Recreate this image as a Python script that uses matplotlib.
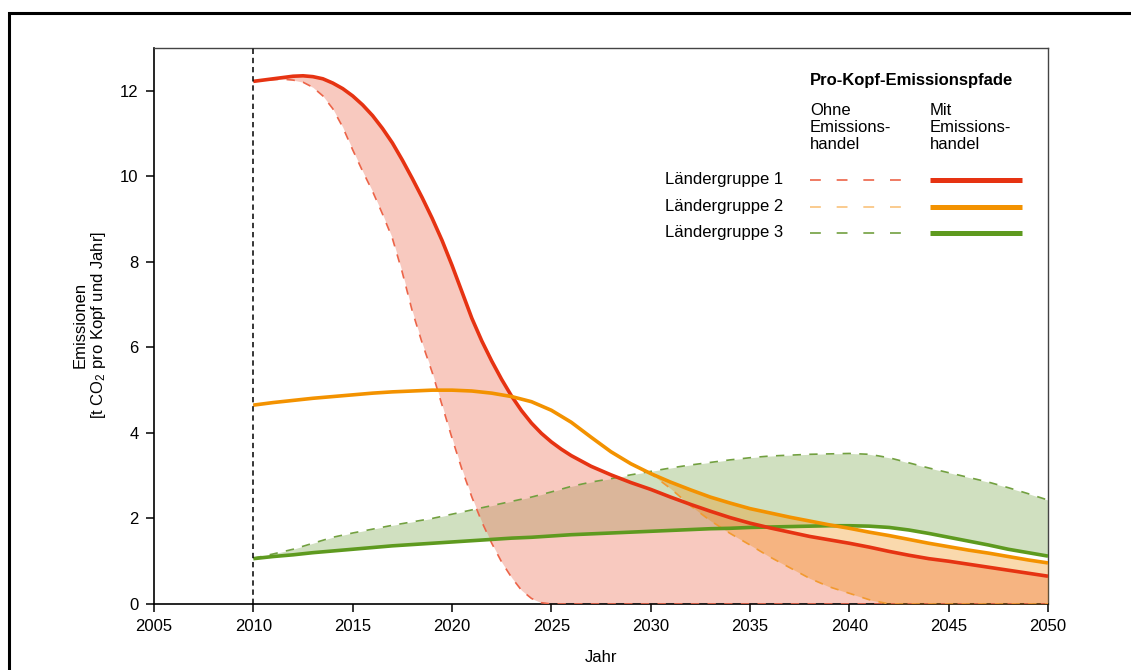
import matplotlib
matplotlib.use("Agg")
import matplotlib.pyplot as plt
from matplotlib.lines import Line2D

plt.rcParams['font.family'] = ['Liberation Sans', 'DejaVu Sans']
plt.rcParams['mathtext.fontset'] = 'custom'
plt.rcParams['mathtext.rm'] = 'Liberation Sans'
plt.rcParams['mathtext.it'] = 'Liberation Sans:italic'

# ---------------- data ----------------
# Ländergruppe 1: half-year readings 2010-2026, then yearly
years_g1 = [2010, 2010.5, 2011, 2011.5, 2012, 2012.5, 2013, 2013.5, 2014, 2014.5,
            2015, 2015.5, 2016, 2016.5, 2017, 2017.5, 2018, 2018.5, 2019, 2019.5,
            2020, 2020.5, 2021, 2021.5, 2022, 2022.5, 2023, 2023.5, 2024, 2024.5,
            2025, 2025.5, 2026, 2027, 2028, 2029, 2030, 2031, 2032, 2033,
            2034, 2035, 2036, 2037, 2038, 2039, 2040, 2041, 2042, 2043,
            2044, 2045, 2046, 2047, 2048, 2049, 2050]
g1_mit = [12.22, 12.25, 12.28, 12.31, 12.34, 12.35, 12.33, 12.28, 12.18, 12.05,
          11.88, 11.67, 11.42, 11.12, 10.78, 10.38, 9.95, 9.50, 9.02, 8.50,
          7.92, 7.30, 6.68, 6.15, 5.68, 5.25, 4.86, 4.52, 4.23, 3.99,
          3.79, 3.62, 3.47, 3.22, 3.02, 2.84, 2.68, 2.50, 2.33, 2.17,
          2.02, 1.89, 1.78, 1.68, 1.58, 1.50, 1.42, 1.33, 1.23, 1.14,
          1.06, 1.00, 0.93, 0.86, 0.79, 0.72, 0.65]
g1_ohne = [12.22, 12.24, 12.26, 12.27, 12.25, 12.20, 12.08, 11.88, 11.58, 11.15,
           10.62, 10.12, 9.65, 9.12, 8.55, 7.75, 6.85, 6.10, 5.42, 4.65,
           3.88, 3.15, 2.50, 1.92, 1.42, 0.98, 0.62, 0.32, 0.13, 0.03,
           0.0, 0.0, 0.0, 0.0, 0.0, 0.0, 0.0, 0.0, 0.0, 0.0,
           0.0, 0.0, 0.0, 0.0, 0.0, 0.0, 0.0, 0.0, 0.0, 0.0,
           0.0, 0.0, 0.0, 0.0, 0.0, 0.0, 0.0]

# Ländergruppen 2 and 3: yearly readings
years = list(range(2010, 2051))
g2_mit = [4.65, 4.71, 4.76, 4.81, 4.85, 4.89, 4.93, 4.96, 4.98, 5.00,
          5.00, 4.98, 4.93, 4.85, 4.73, 4.53, 4.25, 3.90, 3.56, 3.28,
          3.05, 2.85, 2.67, 2.50, 2.36, 2.23, 2.13, 2.03, 1.94, 1.85,
          1.77, 1.68, 1.60, 1.51, 1.42, 1.34, 1.26, 1.19, 1.11, 1.03, 0.96]
g2_ohne = [4.65, 4.71, 4.76, 4.81, 4.85, 4.89, 4.93, 4.96, 4.98, 5.00,
           5.00, 4.98, 4.93, 4.85, 4.73, 4.53, 4.25, 3.90, 3.56, 3.28,
           3.05, 2.70, 2.30, 1.95, 1.65, 1.38, 1.10, 0.85, 0.60, 0.40,
           0.25, 0.10, 0.0, 0.0, 0.0, 0.0, 0.0, 0.0, 0.0, 0.0, 0.0]
g3_mit = [1.06, 1.11, 1.15, 1.20, 1.24, 1.28, 1.32, 1.36, 1.39, 1.42,
          1.45, 1.48, 1.51, 1.54, 1.56, 1.59, 1.62, 1.64, 1.66, 1.68,
          1.70, 1.72, 1.74, 1.76, 1.77, 1.79, 1.80, 1.81, 1.82, 1.83,
          1.83, 1.82, 1.79, 1.73, 1.65, 1.56, 1.47, 1.38, 1.28, 1.20, 1.12]
g3_ohne = [1.07, 1.17, 1.28, 1.42, 1.56, 1.66, 1.75, 1.84, 1.92, 2.00,
           2.10, 2.20, 2.30, 2.40, 2.50, 2.62, 2.75, 2.85, 2.93, 3.02,
           3.10, 3.18, 3.25, 3.31, 3.37, 3.42, 3.46, 3.48, 3.50, 3.51,
           3.52, 3.50, 3.42, 3.30, 3.18, 3.07, 2.96, 2.85, 2.72, 2.58, 2.43]

group_labels = ["Ländergruppe 1", "Ländergruppe 2", "Ländergruppe 3"]
x_ticks = [2005, 2010, 2015, 2020, 2025, 2030, 2035, 2040, 2045, 2050]
y_ticks = [0, 2, 4, 6, 8, 10, 12]

# ---------------- style ----------------
solid_cols = ['#e63312', '#f39200', '#5e9a1f']
dash_cols = ['#ec6448', '#f29a30', '#72a040']
dash_leg_cols = ['#ec6448', '#f9c27c', '#72a040']
fill_cols = ['#ee7861', '#f28a00', '#6ea03c']
fill_alpha = [0.40, 0.32, 0.32]

W, H = 1131, 670
fig = plt.figure(figsize=(W / 100, H / 100), dpi=100)
ax = fig.add_axes([154 / W, 1 - 604 / H, (1048 - 154) / W, (604 - 48) / H])

xs = [years_g1, years, years]
mits = [g1_mit, g2_mit, g3_mit]
ohnes = [g1_ohne, g2_ohne, g3_ohne]

# fills (green, red, orange order)
for i, z in zip([2, 0, 1], [1, 2, 3]):
    ax.fill_between(xs[i], ohnes[i], mits[i], color=fill_cols[i],
                    alpha=fill_alpha[i], linewidth=0, zorder=z)

# dashed ("ohne Emissionshandel")
for i in [2, 0, 1]:
    ax.plot(xs[i], ohnes[i], color=dash_cols[i], lw=1.2,
            dashes=(5, 5), zorder=5)

# solid ("mit Emissionshandel")
for i in [2, 0, 1]:
    ax.plot(xs[i], mits[i], color=solid_cols[i], lw=2.6,
            solid_capstyle='butt', solid_joinstyle='round', zorder=6)

# reference line at 2010
ax.axvline(2010, color='black', lw=1.1, dashes=(3.5, 2.5), zorder=7)

ax.set_xlim(2005, 2050)
ax.set_ylim(0, 13)
ax.set_xticks(x_ticks)
ax.set_yticks(y_ticks)
ax.tick_params(axis='both', direction='out', length=6, width=1.1,
               labelsize=12, colors='black', pad=5)
for s in ['left', 'bottom']:
    ax.spines[s].set_color('black')
    ax.spines[s].set_linewidth(1.2)
for s in ['top', 'right']:
    ax.spines[s].set_color('#444444')
    ax.spines[s].set_linewidth(1.0)

ax.set_xlabel("Jahr", fontsize=12, labelpad=11)
fig.text(80 / W, 1 - 325 / H, "Emissionen", rotation=90, fontsize=12,
         ha='center', va='center')
fig.text(98 / W, 1 - 325 / H, "[t CO$_2$ pro Kopf und Jahr]", rotation=90,
         fontsize=12, ha='center', va='center')

# ---------------- legend (manual) ----------------
def fx(px):
    return px / W


def fy(py):
    return 1 - py / H


fig.text(fx(810), fy(81), "Pro-Kopf-Emissionspfade", fontsize=12,
         fontweight='bold', ha='left', va='center')
fig.text(fx(810), fy(103), "Ohne\nEmissions-\nhandel", fontsize=12,
         ha='left', va='top', linespacing=1.18)
fig.text(fx(930), fy(103), "Mit\nEmissions-\nhandel", fontsize=12,
         ha='left', va='top', linespacing=1.18)

row_y = [179.5, 206.5, 233]
for i, lab in enumerate(group_labels):
    fig.text(fx(665), fy(row_y[i]), lab, fontsize=12, ha='left', va='center')
    fig.add_artist(Line2D([fx(810), fx(903)], [fy(row_y[i]), fy(row_y[i])],
                          color=dash_leg_cols[i], lw=1.2, dashes=(6.5, 9.5),
                          transform=fig.transFigure))
    fig.add_artist(Line2D([fx(930), fx(1022)], [fy(row_y[i]), fy(row_y[i])],
                          color=solid_cols[i], lw=3.6, solid_capstyle='butt',
                          transform=fig.transFigure))

# outer frame (left and top edges)
fig.add_artist(Line2D([fx(9), fx(9), fx(1131)], [fy(670), fy(13), fy(13)],
                      color='black', lw=2.2, transform=fig.transFigure,
                      solid_joinstyle='miter'))

fig.savefig("out.png", dpi=100)
